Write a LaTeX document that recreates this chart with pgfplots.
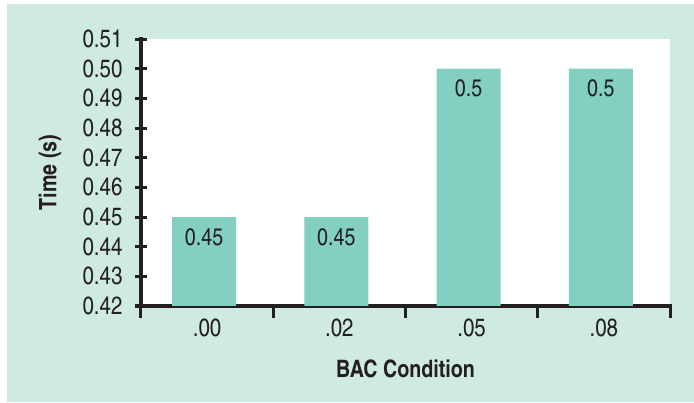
\documentclass[border=0pt]{standalone}
\usepackage{fontspec}
\setmainfont{texgyreheroscn}[Extension=.otf, UprightFont=*-regular, BoldFont=*-bold]
\usepackage{pgfplots}
\pgfplotsset{compat=1.18}
\definecolor{bgteal}{HTML}{CFE9E3}
\definecolor{barteal}{HTML}{83CFC2}
\definecolor{ink}{HTML}{231F20}
\begin{document}
\begin{tikzpicture}
\path[use as bounding box, fill=white] (0pt,0pt) rectangle (694pt,402pt);
\fill[bgteal] (7pt,0pt) rectangle (694pt,398pt);
\begin{axis}[
  at={(141pt,96pt)}, anchor=south west,
  scale only axis, width=529pt, height=267pt,
  /pgf/number format/assume math mode=true,
  axis background/.style={fill=white},
  axis x line*=bottom, axis y line*=left,
  axis line style={ink, line width=3.5pt, line cap=rect},
  every tick/.style={ink, line width=3pt},
  major tick length=12pt,
  tick align=center,
  xmin=-0.5, xmax=3.5, ymin=0.42, ymax=0.51,
  ytick={0.42,0.43,0.44,0.45,0.46,0.47,0.48,0.49,0.50,0.51},
  yticklabel style={text=ink, font=\fontsize{25}{29}\selectfont, xshift=-9pt, /pgf/number format/fixed, /pgf/number format/fixed zerofill, /pgf/number format/precision=2},
  xtick={-0.5,0.5,1.5,2.5,3.5}, xticklabels={},
  extra x ticks={0,1,2,3},
  extra x tick labels={.00,.02,.05,.08},
  extra x tick style={major tick length=0pt, tick style={draw=none}, tick label style={text=ink, font=\fontsize{25}{29}\selectfont, yshift=-9pt}},
  xlabel={BAC Condition}, ylabel={Time (s)},
  every axis x label/.style={at={(axis description cs:0.5,-0.236)}, anchor=center, text=ink, font=\fontsize{24}{28}\selectfont\bfseries},
  every axis y label/.style={at={(axis description cs:-0.172,0.5)}, rotate=90, anchor=center, text=ink, font=\fontsize{24}{28}\selectfont\bfseries},
  ybar, bar width=64pt, bar shift=-3pt,
  nodes near coords,
  nodes near coords style={anchor=center, yshift=-20pt, text=ink, font=\fontsize{24}{28}\selectfont},
]
\addplot[fill=barteal, draw=none] coordinates {(0,0.45) (1,0.45) (2,0.5) (3,0.5)};
\end{axis}
\end{tikzpicture}
\end{document}
